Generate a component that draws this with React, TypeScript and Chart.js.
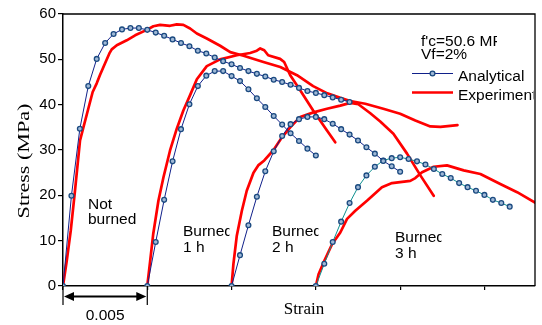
import { useEffect, useRef } from 'react';
import { Chart, registerables } from 'chart.js';

Chart.register(...registerables);

// Stress–strain curves (strain, stress in MPa). Burned specimens are shifted
// along the strain axis by 0.005 per series so the curves sit side by side.
const analyticalNotBurned: [number, number][] = [
  [0, 0], [0.0005, 19.9], [0.001, 34.7], [0.0015, 44.1], [0.002, 50.1], [0.0025, 53.6],
  [0.003, 55.6], [0.0035, 56.6], [0.004, 56.9], [0.0045, 56.9], [0.005, 56.5], [0.0055, 55.9],
  [0.006, 55.2], [0.0065, 54.4], [0.007, 53.6], [0.0075, 52.9], [0.008, 51.9], [0.0085, 51.3],
  [0.009, 50.4], [0.0095, 49.6], [0.01, 48.9], [0.0105, 48.1], [0.011, 47.4], [0.0115, 46.8],
  [0.012, 46.2], [0.0125, 45.5], [0.013, 45.0], [0.0135, 44.4], [0.014, 43.7], [0.0145, 43.0],
  [0.015, 42.6], [0.0155, 42.1], [0.016, 41.6], [0.0165, 41.1], [0.017, 40.6],
];

const analyticalBurned1h: [number, number][] = [
  [0.005, 0], [0.0055, 9.7], [0.006, 19.0], [0.0065, 27.5], [0.007, 34.6], [0.0075, 40.1],
  [0.008, 44.1], [0.0085, 46.4], [0.009, 47.4], [0.0095, 47.4], [0.01, 46.3], [0.0105, 45.2],
  [0.011, 43.4], [0.0115, 41.4], [0.012, 39.5], [0.0125, 37.5], [0.013, 35.6], [0.0135, 33.7],
  [0.014, 32.0], [0.0145, 30.3], [0.015, 28.8],
];

const analyticalBurned2h: [number, number][] = [
  [0.01, 0], [0.0105, 6.8], [0.011, 13.4], [0.0115, 19.7], [0.012, 25.3], [0.0125, 29.7],
  [0.013, 33.1], [0.0135, 35.7], [0.014, 36.8], [0.0145, 37.3], [0.015, 37.3], [0.0155, 36.8],
  [0.016, 35.8], [0.0165, 34.6], [0.017, 33.4], [0.0175, 32.1], [0.018, 30.6], [0.0185, 29.2],
  [0.019, 27.6], [0.0195, 26.4], [0.02, 25.2],
];

const analyticalBurned3h: [number, number][] = [
  [0.015, 0], [0.0155, 4.9], [0.016, 9.7], [0.0165, 14.2], [0.017, 18.3], [0.0175, 21.8],
  [0.018, 24.4], [0.0185, 26.3], [0.019, 27.7], [0.0195, 28.2], [0.02, 28.4], [0.0205, 28.0],
  [0.021, 27.5], [0.0215, 26.8], [0.022, 25.8], [0.0225, 24.7], [0.023, 23.8], [0.0235, 22.7],
  [0.024, 21.8], [0.0245, 21.0], [0.025, 20.1], [0.0255, 19.0], [0.026, 18.3], [0.0265, 17.5],
];

const testNotBurned: [number, number][] = [
  [0, 0], [0.00022, 5.5], [0.00046, 12.2], [0.00071, 21.0], [0.00101, 32.1], [0.00121, 35.0],
  [0.0015, 39.1], [0.00176, 42.8], [0.002, 44.7], [0.0022, 46.6], [0.00249, 49.1], [0.00275, 51.3],
  [0.00289, 52.2], [0.00319, 53.1], [0.00378, 54.2], [0.00428, 55.3], [0.00497, 56.5], [0.00536, 57.3],
  [0.00576, 57.6], [0.00635, 57.4], [0.00675, 57.7], [0.00714, 57.6], [0.00754, 56.8], [0.00794, 55.7],
  [0.00853, 54.6], [0.00932, 53.0], [0.00992, 51.6], [0.01071, 50.8], [0.01189, 49.4], [0.01289, 48.3],
  [0.01388, 46.5], [0.01484, 44.1], [0.01568, 42.5], [0.01645, 41.5], [0.01704, 40.8], [0.01793, 40.2],
  [0.019, 39.1], [0.02, 38.0], [0.0209, 36.5], [0.02179, 35.2], [0.02239, 35.1], [0.0234, 35.5],
];

const testBurned1h: [number, number][] = [
  [0.005, 0], [0.00517, 5.5], [0.00535, 11.4], [0.00566, 18.8], [0.00596, 24.0], [0.00635, 29.9],
  [0.00675, 34.7], [0.00714, 38.7], [0.00754, 42.1], [0.00794, 45.6], [0.00853, 48.5], [0.00932, 50.0],
  [0.01031, 50.9], [0.0111, 51.4], [0.0115, 51.9], [0.0117, 52.4], [0.01194, 52.0], [0.01217, 50.9],
  [0.01288, 50.1], [0.01312, 49.4], [0.01348, 46.5], [0.01407, 43.2], [0.01484, 38.7], [0.01566, 34.3],
  [0.01615, 31.7],
];

const testBurned2h: [number, number][] = [
  [0.01, 0], [0.01011, 4.9], [0.01031, 11.1], [0.01061, 16.6], [0.0109, 21.0], [0.0113, 25.0],
  [0.01158, 26.6], [0.01194, 27.7], [0.01249, 30.0], [0.01299, 32.8], [0.01348, 35.0], [0.01407, 37.3],
  [0.01486, 38.3], [0.01566, 39.1], [0.01645, 39.8], [0.01704, 40.4], [0.01752, 40.1], [0.01823, 38.1],
  [0.01882, 36.3], [0.0196, 33.6], [0.02041, 29.2], [0.0212, 24.4], [0.02199, 19.9],
];

const testBurned3h: [number, number][] = [
  [0.015, 0], [0.01516, 2.6], [0.01546, 5.2], [0.01596, 9.2], [0.01645, 11.8], [0.01685, 14.8],
  [0.01734, 16.6], [0.01803, 18.8], [0.01892, 21.8], [0.01952, 22.7], [0.0206, 23.2], [0.0209, 23.8],
  [0.0213, 25.1], [0.02199, 26.3], [0.02278, 26.6], [0.02377, 25.5], [0.02476, 24.7], [0.02594, 22.5],
  [0.02694, 20.7], [0.028, 18.4],
];

const strainRange = [0, 0.028];
const strainStep = 0.005;
const stressRange = [0, 60];
const stressStep = 10;

const curveLabels = [
  { lines: ['Not', 'burned'], at: 0 },
  { lines: ['Burned', '1 h'], at: 1 },
  { lines: ['Burned', '2 h'], at: 2 },
  { lines: ['Burned', '3 h'], at: 3 },
];

const SANS = '"Liberation Sans", Arial, Helvetica, sans-serif';
const SERIF = '"Liberation Serif", "Times New Roman", serif';
const NAVY = '#10208a';
const TEAL = '#0e8f8f';
const RED = '#ff0000';
const MARK_EDGE = '#1b4a80';
const MARK_FILL = '#9fb8d6';

const toXY = (pts: [number, number][]) => pts.map(([x, y]) => ({ x, y }));

const modelSet = (pts: [number, number][], color: string) => ({
  data: toXY(pts),
  showLine: true,
  borderColor: color,
  borderWidth: 1,
  pointRadius: 2.4,
  pointBorderWidth: 1.3,
  pointBorderColor: MARK_EDGE,
  pointBackgroundColor: MARK_FILL,
  order: 0,
});

const testSet = (pts: [number, number][]) => ({
  data: toXY(pts),
  showLine: true,
  borderColor: RED,
  borderWidth: 2.7,
  borderJoinStyle: 'round' as const,
  borderCapStyle: 'round' as const,
  pointRadius: 0,
  order: 1,
});

const decorations = {
  id: 'decorations',
  afterDraw(chart: any) {
    const { ctx, chartArea: a, scales } = chart;
    const xs = scales.x;
    ctx.save();

    // top and right frame
    ctx.strokeStyle = '#000';
    ctx.lineWidth = 1.3;
    ctx.beginPath();
    ctx.moveTo(a.left, a.top);
    ctx.lineTo(a.right, a.top);
    ctx.lineTo(a.right, a.bottom);
    ctx.stroke();

    const text = (s: string, x: number, y: number, clipRight?: number) => {
      ctx.save();
      if (clipRight !== undefined) {
        ctx.beginPath();
        ctx.rect(x - 2, y - 20, clipRight - x + 2, 30);
        ctx.clip();
      }
      ctx.fillText(s, x, y);
      ctx.restore();
    };

    ctx.fillStyle = '#000';
    ctx.font = `15.5px ${SANS}`;
    ctx.textAlign = 'left';
    ctx.textBaseline = 'alphabetic';

    // specimen note
    text("f'c=50.6 MPa", 421, 45.5, 497);
    text('Vf=2%', 421, 58.5);

    // legend
    ctx.strokeStyle = NAVY;
    ctx.lineWidth = 1;
    ctx.beginPath();
    ctx.moveTo(412, 73.5);
    ctx.lineTo(453, 73.5);
    ctx.stroke();
    ctx.beginPath();
    ctx.arc(432.5, 73.5, 2.4, 0, Math.PI * 2);
    ctx.fillStyle = MARK_FILL;
    ctx.fill();
    ctx.strokeStyle = MARK_EDGE;
    ctx.lineWidth = 1.3;
    ctx.stroke();
    ctx.strokeStyle = RED;
    ctx.lineWidth = 2.7;
    ctx.beginPath();
    ctx.moveTo(412, 92.5);
    ctx.lineTo(453, 92.5);
    ctx.stroke();
    ctx.fillStyle = '#000';
    text('Analytical', 458, 81);
    text('Experimental', 458, 100, a.right - 1.5);

    // curve labels, each clipped to its text box
    const labelBoxes = [
      { x: 88, y: 208.5, right: 160 },
      { x: 183, y: 236, right: 229.5 },
      { x: 272, y: 236, right: 318.5 },
      { x: 395, y: 242, right: 441.5 },
    ];
    curveLabels.forEach((lab) => {
      const b = labelBoxes[lab.at];
      text(lab.lines[0], b.x, b.y, b.right);
      text(lab.lines[1], b.x, b.y + 15.5, b.right);
    });

    // strain offset between curves: dimension arrow
    const x0 = xs.getPixelForValue(0);
    const x1 = xs.getPixelForValue(strainStep);
    const ay = 296.5;
    ctx.strokeStyle = '#000';
    ctx.lineWidth = 1.2;
    ctx.beginPath();
    ctx.moveTo(x0, a.bottom);
    ctx.lineTo(x0, 305);
    ctx.moveTo(x1, a.bottom);
    ctx.lineTo(x1, 305);
    ctx.stroke();
    ctx.lineWidth = 2;
    ctx.beginPath();
    ctx.moveTo(x0 + 8, ay);
    ctx.lineTo(x1 - 8, ay);
    ctx.stroke();
    ctx.beginPath();
    ctx.moveTo(x0 + 1, ay);
    ctx.lineTo(x0 + 11, ay - 4.5);
    ctx.lineTo(x0 + 11, ay + 4.5);
    ctx.closePath();
    ctx.moveTo(x1 - 1, ay);
    ctx.lineTo(x1 - 11, ay - 4.5);
    ctx.lineTo(x1 - 11, ay + 4.5);
    ctx.closePath();
    ctx.fill();
    ctx.textAlign = 'center';
    ctx.fillText('0.005', (x0 + x1) / 2, 319.5);

    // axis titles
    ctx.font = `17px ${SERIF}`;
    ctx.fillText('Strain', 304, 314);
    ctx.save();
    ctx.translate(25, 161);
    ctx.rotate(-Math.PI / 2);
    ctx.scale(1.3, 1);
    ctx.textBaseline = 'middle';
    ctx.font = `17px ${SERIF}`;
    ctx.fillText('Stress (MPa)', 0, 0);
    ctx.restore();

    ctx.restore();
  },
};

export default function App() {
  const ref = useRef<HTMLCanvasElement>(null);

  useEffect(() => {
    if (!ref.current) return;
    const chart = new Chart(ref.current, {
      type: 'scatter',
      data: {
        datasets: [
          modelSet(analyticalNotBurned, NAVY),
          modelSet(analyticalBurned1h, NAVY),
          modelSet(analyticalBurned2h, NAVY),
          modelSet(analyticalBurned3h, TEAL),
          testSet(testNotBurned),
          testSet(testBurned1h),
          testSet(testBurned2h),
          testSet(testBurned3h),
        ] as any,
      },
      options: {
        responsive: false,
        maintainAspectRatio: false,
        devicePixelRatio: 1,
        animation: false,
        layout: { padding: { top: 14, right: 7, left: 0, bottom: 0 } },
        plugins: { legend: { display: false }, tooltip: { enabled: false } },
        scales: {
          x: {
            type: 'linear',
            min: strainRange[0],
            max: strainRange[1],
            ticks: { stepSize: strainStep, includeBounds: false, display: false },
            grid: { drawOnChartArea: false, drawTicks: true, tickLength: 4, color: '#000', lineWidth: 1.2 },
            border: { display: true, color: '#000', width: 1.6 },
            afterFit: (s: any) => { s.height = 39; },
          },
          y: {
            min: stressRange[0],
            max: stressRange[1],
            ticks: { stepSize: stressStep, color: '#000', padding: 2, font: { family: SANS, size: 15 } },
            grid: { drawOnChartArea: false, drawTicks: true, tickLength: 5, color: '#000', lineWidth: 1.2 },
            border: { display: true, color: '#000', width: 1.5 },
            afterFit: (s: any) => { s.width = 63; },
          },
        },
      } as any,
      plugins: [decorations],
    });
    return () => chart.destroy();
  }, []);

  return (
    <div style={{ position: 'absolute', left: 0, top: 0, width: 542, height: 325, background: '#fff' }}>
      <canvas ref={ref} width={542} height={325} style={{ display: 'block', width: 542, height: 325 }} />
    </div>
  );
}
